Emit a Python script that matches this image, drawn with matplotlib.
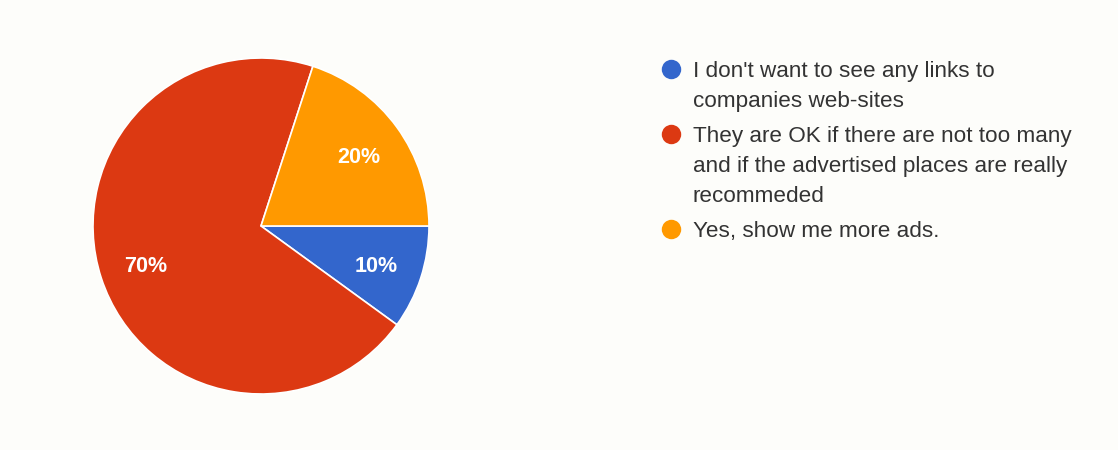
import matplotlib
matplotlib.use("Agg")
import matplotlib.pyplot as plt
from matplotlib.transforms import offset_copy

# Data
labels = [
    ["I don't want to see any links to", "companies web-sites"],
    ["They are OK if there are not too many", "and if the advertised places are really", "recommeded"],
    ["Yes, show me more ads."],
]
values = [10, 70, 20]
colors = ["#3366cc", "#dc3912", "#ff9900"]

W, H = 1118, 450
plt.rcParams["font.family"] = ["Liberation Sans", "DejaVu Sans"]
fig = plt.figure(figsize=(W / 100, H / 100), dpi=100, facecolor="#fdfdfa")

# Pie axes: centre (261, 226) px from top-left, radius 168 px
cx, cy, r = 261, 226, 168
ax = fig.add_axes([(cx - r) / W, (H - cy - r) / H, 2 * r / W, 2 * r / H])
ax.set_facecolor("none")
wedges, texts, autotexts = ax.pie(
    values, colors=colors, startangle=0, counterclock=False,
    autopct=lambda p: f"{p:.0f}%", pctdistance=0.72,
    wedgeprops=dict(edgecolor="white", linewidth=1.2),
    textprops=dict(color="white", fontsize=15.5, fontweight="bold"),
    radius=1.0,
)
for t in autotexts:
    t.set_transform(offset_copy(t.get_transform(), fig=fig, x=0, y=-3, units="dots"))
ax.set_xlim(-1, 1)
ax.set_ylim(-1, 1)
ax.set_aspect("equal")
ax.axis("off")

# Legend drawn manually
lax = fig.add_axes([0, 0, 1, 1], facecolor="none")
lax.set_xlim(0, W)
lax.set_ylim(H, 0)
lax.axis("off")
marker_x = 671
text_x = 693
line_h = 30
entry_gap = 5
y = 69
for lab, col in zip(labels, colors):
    lax.plot([marker_x], [y], marker="o", markersize=14, color=col,
             markeredgewidth=0, linestyle="none")
    for line in lab:
        lax.text(text_x, y, line, fontsize=16.2, color="#333333",
                 va="center_baseline", ha="left")
        y += line_h
    y += entry_gap

fig.savefig("out.png", dpi=100, facecolor=fig.get_facecolor())
